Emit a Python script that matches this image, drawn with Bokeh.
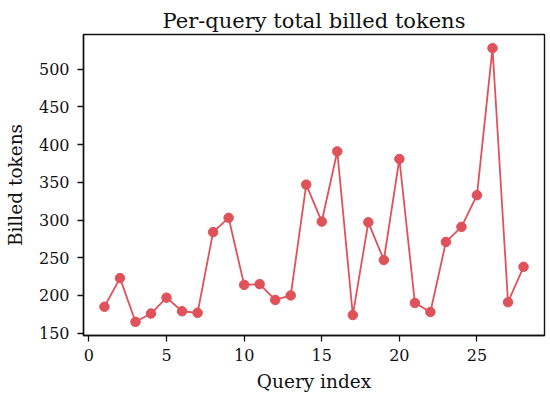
from bokeh.plotting import figure
from bokeh.models import Range1d, FixedTicker
from bokeh.embed import file_html
from bokeh.resources import INLINE

query_index = list(range(1, 29))
billed_tokens = [185, 223, 165, 176, 197, 179, 177, 284, 303, 214,
                 215, 194, 200, 347, 298, 391, 174, 297, 247, 381,
                 190, 178, 271, 291, 333, 528, 191, 238]
x_ticks = [0, 5, 10, 15, 20, 25]
y_ticks = [150, 200, 250, 300, 350, 400, 450, 500]

FONT = "DejaVu Serif"
COLOR = "#e0525a"

p = figure(width=550, height=402, output_backend="svg", toolbar_location=None,
           x_range=Range1d(-0.35, 29.35), y_range=Range1d(146.85, 546.15),
           min_border_left=83, min_border_right=6, min_border_top=34, min_border_bottom=67)

p.line(query_index, billed_tokens, line_color=COLOR, line_width=1.8)
p.scatter(query_index, billed_tokens, size=9.5, fill_color=COLOR, line_color=COLOR)

p.title.text = "Per-query total billed tokens"
p.title.align = "center"
p.title.text_font = FONT
p.title.text_font_size = "21px"
p.title.text_font_style = "normal"
p.title.text_color = "#111111"
p.title.standoff = 4
p.title.offset = 0

p.grid.visible = False
p.outline_line_color = "#111111"
p.outline_line_width = 1.4
p.outline_line_alpha = 1.0

for ax, ticks, label in ((p.xaxis[0], x_ticks, "Query index"), (p.yaxis[0], y_ticks, "Billed tokens")):
    ax.ticker = FixedTicker(ticks=ticks)
    ax.axis_label = label
    ax.axis_label_text_font = FONT
    ax.axis_label_text_font_size = "18.5px"
    ax.axis_label_text_font_style = "normal"
    ax.axis_label_text_color = "#111111"
    ax.major_label_text_font = FONT
    ax.major_label_text_font_size = "16px"
    ax.major_label_text_color = "#111111"
    ax.major_tick_out = 6
    ax.major_tick_in = 0
    ax.minor_tick_out = 0
    ax.minor_tick_in = 0
    ax.major_tick_line_width = 1.3
    ax.major_tick_line_color = "#111111"
    ax.axis_line_color = "#111111"
    ax.axis_line_width = 1.4

p.yaxis[0].major_label_standoff = 8
p.yaxis[0].axis_label_standoff = 10
p.xaxis[0].major_label_standoff = 7
p.xaxis[0].axis_label_standoff = 7

with open("out.html", "w") as f:
    f.write(file_html(p, INLINE))
